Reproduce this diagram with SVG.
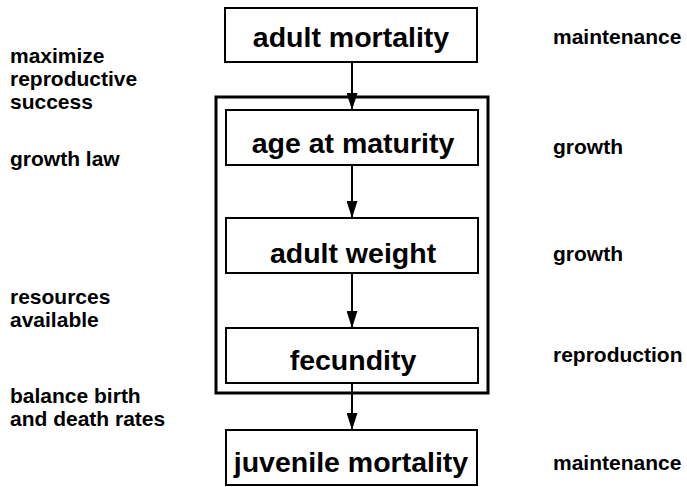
<svg xmlns="http://www.w3.org/2000/svg" width="687" height="487" viewBox="0 0 687 487">
<style>
.box{fill:#fff;stroke:#000;stroke-width:2}
.outer{fill:none;stroke:#000;stroke-width:3}
.nt{font-family:"Liberation Sans",Arial,sans-serif;font-weight:bold;font-size:28.5px;text-anchor:middle;fill:#000}
.st{font-family:"Liberation Sans",Arial,sans-serif;font-weight:bold;font-size:21px;fill:#000}
.ln{stroke:#000;stroke-width:2;fill:none}
</style>
<defs>
<marker id="ah" markerWidth="17" markerHeight="11" refX="17" refY="5.5" orient="auto" markerUnits="userSpaceOnUse" viewBox="0 0 17 11">
<path d="M0,0 L17,5.5 L0,11 Z" fill="#000"/>
</marker>
</defs>
<g id="labels-left">
<text class="st" x="10" y="63">maximize</text>
<text class="st" x="10" y="86">reproductive</text>
<text class="st" x="10" y="109">success</text>
<text class="st" x="10" y="166">growth law</text>
<text class="st" x="10" y="304">resources</text>
<text class="st" x="10" y="327">available</text>
<text class="st" x="10" y="403">balance birth</text>
<text class="st" x="10" y="426">and death rates</text>
</g>
<g id="labels-right">
<text class="st" x="553" y="44">maintenance</text>
<text class="st" x="553" y="154">growth</text>
<text class="st" x="553" y="261">growth</text>
<text class="st" x="553" y="362">reproduction</text>
<text class="st" x="553" y="470">maintenance</text>
</g>
<g id="outer-frame">
<rect class="outer" x="216" y="97" width="272" height="296"/>
</g>
<g id="node-adult-mortality">
<rect class="box" x="225" y="8" width="252" height="54"/>
<text class="nt" x="351" y="47">adult mortality</text>
</g>
<g id="node-age-at-maturity">
<rect class="box" x="226" y="110" width="252" height="55"/>
<text class="nt" x="353" y="153">age at maturity</text>
</g>
<g id="node-adult-weight">
<rect class="box" x="226" y="218" width="252" height="55"/>
<text class="nt" x="353" y="263">adult weight</text>
</g>
<g id="node-fecundity">
<rect class="box" x="226" y="328" width="252" height="55"/>
<text class="nt" x="353" y="370">fecundity</text>
</g>
<g id="node-juvenile-mortality">
<rect class="box" x="226" y="430" width="251" height="55"/>
<text class="nt" x="351" y="472">juvenile mortality</text>
</g>
<g id="connectors">
<line class="ln" x1="352" y1="62" x2="352" y2="110" marker-end="url(#ah)"/>
<line class="ln" x1="352" y1="165" x2="352" y2="218" marker-end="url(#ah)"/>
<line class="ln" x1="352" y1="273" x2="352" y2="328" marker-end="url(#ah)"/>
<line class="ln" x1="352" y1="383" x2="352" y2="430" marker-end="url(#ah)"/>
</g>
</svg>
